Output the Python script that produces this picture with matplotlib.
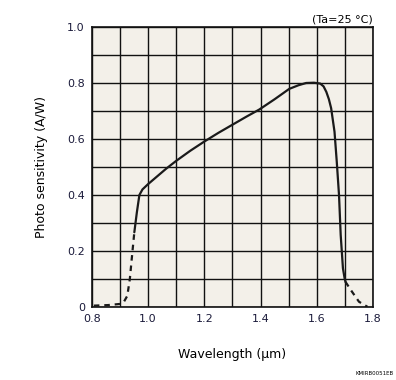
import matplotlib
matplotlib.use("Agg")
import matplotlib.pyplot as plt
import numpy as np

# Solid part of the response curve
wl_solid = [0.951, 0.960, 0.969, 0.980, 1.0, 1.063, 1.1, 1.15, 1.2, 1.25, 1.3, 1.35, 1.395, 1.45, 1.502, 1.535,
            1.562, 1.59, 1.612, 1.624, 1.634, 1.643, 1.651, 1.663, 1.671, 1.679, 1.685, 1.693, 1.699, 1.702]
ps_solid = [0.267, 0.338, 0.400, 0.420, 0.439, 0.493, 0.522, 0.558, 0.591, 0.622, 0.651, 0.680, 0.705, 0.742, 0.779, 0.792,
            0.800, 0.801, 0.798, 0.788, 0.768, 0.742, 0.710, 0.626, 0.519, 0.400, 0.257, 0.138, 0.102, 0.090]
# Dashed tails
wl_dash_left = [0.807, 0.858, 0.900, 0.913, 0.926, 0.935, 0.944, 0.951]
ps_dash_left = [0.005, 0.007, 0.011, 0.017, 0.040, 0.100, 0.195, 0.267]
wl_dash_right = [1.702, 1.725, 1.75, 1.78]
ps_dash_right = [0.090, 0.055, 0.019, 0.001]

x_ticks = [0.8, 1.0, 1.2, 1.4, 1.6, 1.8]
x_labels = ["0.8", "1.0", "1.2", "1.4", "1.6", "1.8"]
y_ticks = [0, 0.2, 0.4, 0.6, 0.8, 1.0]
y_labels = ["0", "0.2", "0.4", "0.6", "0.8", "1.0"]

plt.rcParams['font.family'] = ['DejaVu Sans']
fig = plt.figure(figsize=(3.96, 3.80), dpi=100)
ax = fig.add_axes([0.232, 0.192, 0.710, 0.737])
ax.set_facecolor('#f3f0e9')

ax.plot(wl_solid, ps_solid, color='#1a1a1a', lw=1.6, solid_capstyle='round', solid_joinstyle='round')
ax.plot(wl_dash_left, ps_dash_left, color='#1a1a1a', lw=1.6, ls=(0, (2.5, 2.2)))
ax.plot(wl_dash_right, ps_dash_right, color='#1a1a1a', lw=1.6, ls=(0, (2.5, 2.2)))

ax.set_xlim(0.8, 1.8)
ax.set_ylim(0, 1.0)
ax.set_xticks(np.arange(0.8, 1.81, 0.1), minor=True)
ax.set_yticks(np.arange(0, 1.01, 0.1), minor=True)
ax.set_xticks(x_ticks)
ax.set_xticklabels(x_labels)
ax.set_yticks(y_ticks)
ax.set_yticklabels(y_labels)
ax.grid(True, which='both', color='#111111', lw=1.0)
ax.set_axisbelow(True)
ax.tick_params(which='both', length=0, labelsize=8, colors='#1a1a3a', pad=5)
for s in ax.spines.values():
    s.set_color('#111111')
    s.set_linewidth(1.2)

ax.set_xlabel('Wavelength (μm)', fontsize=9, labelpad=17)
ax.set_ylabel('Photo sensitivity (A/W)', fontsize=9, labelpad=14)
ax.text(1.0, 1.01, '(Ta=25 °C)', transform=ax.transAxes, ha='right', va='bottom', fontsize=8)
fig.text(0.995, 0.01, 'KMIRB0051EB', ha='right', va='bottom', fontsize=4)

fig.savefig('out.png', dpi=100)
